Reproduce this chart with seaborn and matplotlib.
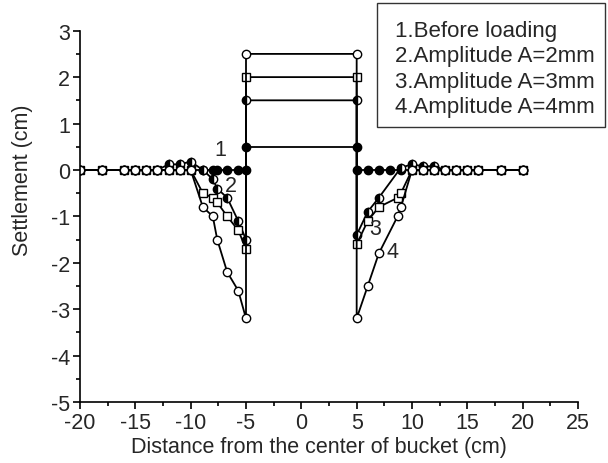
import numpy as np
import pandas as pd
import matplotlib
matplotlib.use("Agg")
import matplotlib.pyplot as plt
import seaborn as sns
from matplotlib.patches import Rectangle

# ---------------- data ----------------
zero_left = [-20, -18, -16, -15, -14, -13, -12, -11, -10]
zero_right = [11, 12, 13, 14, 15, 16, 18, 20]

# Series 1: before loading
s1_x = zero_left + [-8.9, -8.0, -7.6, -6.7, -5.7, -5.0, -5.0, 5.0, 5.0, 6.0, 7.0, 8.0, 9.0, 10.0] + zero_right
s1_y = [0]*9 + [0, 0, 0, 0, 0, 0, 0.5, 0.5, 0, 0, 0, 0, 0, 0] + [0]*8

# Series 2: amplitude 2 mm
s2_x = [-20, -18, -16, -15, -14, -13, -12, -11, -10, -8.9, -8.0, -7.6, -6.7, -5.7, -5.0,
        -5.0, 5.0, 5.0, 6.0, 7.0, 9.0, 10.0, 11, 12, 13, 14, 15, 16, 18, 20]
s2_y = [0, 0, 0, 0, 0, 0, 0.12, 0.12, 0.18, 0.0, -0.2, -0.4, -0.6, -1.1, -1.5,
        1.5, 1.5, -1.4, -0.9, -0.6, 0.05, 0.12, 0.08, 0.08, 0, 0, 0, 0, 0, 0]

# Series 3: amplitude 3 mm
s3_x = zero_left + [-8.9, -8.0, -7.6, -6.7, -5.7, -5.0, -5.0, 5.0, 5.0, 6.0, 7.0, 8.7, 9.0, 10.0] + zero_right
s3_y = [0]*9 + [-0.5, -0.6, -0.7, -1.0, -1.3, -1.7, 2.0, 2.0, -1.6, -1.1, -0.8, -0.6, -0.5, 0] + [0]*8

# Series 4: amplitude 4 mm
s4_x = zero_left + [-8.9, -8.0, -7.6, -6.7, -5.7, -5.0, -5.0, 5.0, 5.0, 6.0, 7.0, 8.7, 9.0, 10.0] + zero_right
s4_y = [0]*9 + [-0.8, -1.0, -1.5, -2.2, -2.6, -3.2, 2.5, 2.5, -3.2, -2.5, -1.8, -1.0, -0.8, 0] + [0]*8

legend_lines = ["1.Before loading", "2.Amplitude A=2mm", "3.Amplitude A=3mm", "4.Amplitude A=4mm"]
curve_labels = ["1", "2", "3", "4"]
label_pos_x = [-7.35, -6.4, 6.65, 8.2]
label_pos_y = [0.45, -0.34, -1.26, -1.76]

x_ticks = [-20, -15, -10, -5, 0, 5, 10, 15, 20, 25]
y_ticks = [-5, -4, -3, -2, -1, 0, 1, 2, 3]

# ---------------- style ----------------
sns.set_style("ticks")
plt.rcParams["font.family"] = ["Liberation Sans", "DejaVu Sans"]
plt.rcParams["axes.linewidth"] = 1.2
plt.rcParams["axes.unicode_minus"] = False

fig = plt.figure(figsize=(6.08, 4.64), dpi=100)
ax = fig.add_axes([80/608, 1-403/464, 498/608, 371.3/464])

common = dict(sort=False, estimator=None, color="k", linewidth=1.3,
              markeredgecolor="k", markeredgewidth=1.0, ax=ax, legend=False)

sns.lineplot(x=s1_x, y=s1_y, marker="o", markersize=6, markerfacecolor="k", **common)
sns.lineplot(x=s2_x, y=s2_y, marker="o", markersize=6, markerfacecolor="k",
             fillstyle="left", markerfacecoloralt="white", **common)
sns.lineplot(x=s3_x, y=s3_y, marker="s", markersize=5.2, markerfacecolor="white", **common)
sns.lineplot(x=s4_x, y=s4_y, marker="o", markersize=6, markerfacecolor="white", **common)

for t, lx, ly in zip(curve_labels, label_pos_x, label_pos_y):
    ax.text(lx, ly, t, fontsize=15.5, ha="center", va="center")

ax.set_xlim(-20, 25)
ax.set_ylim(-5, 3)
ax.set_xticks(x_ticks)
ax.set_yticks(y_ticks)
ax.set_xticks(np.arange(-17.5, 25, 5), minor=True)
ax.set_yticks(np.arange(-4.5, 3, 1), minor=True)
ax.tick_params(axis="both", which="major", direction="out", length=5, width=1.2,
               labelsize=15.5, pad=2, color="k")
ax.tick_params(axis="both", which="minor", direction="out", length=3, width=1.2, color="k")
sns.despine(ax=ax)
ax.spines["left"].set_color("k")
ax.spines["bottom"].set_color("k")

ax.set_xlabel("Distance from the center of bucket (cm)", fontsize=15.5)
ax.set_ylabel("Settlement (cm)", fontsize=15.5)
ax.xaxis.set_label_coords(0.48, -0.092)
ax.yaxis.set_label_coords(-0.095, 0.6)

# text legend box
fig.patches.append(Rectangle((377/608, 1-128/464), 228/608, 124/464,
                             transform=fig.transFigure, fill=False,
                             edgecolor="#333333", linewidth=1.0))
fig.text(395/608, 1-69.5/464, "\n".join(legend_lines), fontsize=16,
         ha="left", va="center", linespacing=1.28)

fig.savefig("out.png", dpi=100)
